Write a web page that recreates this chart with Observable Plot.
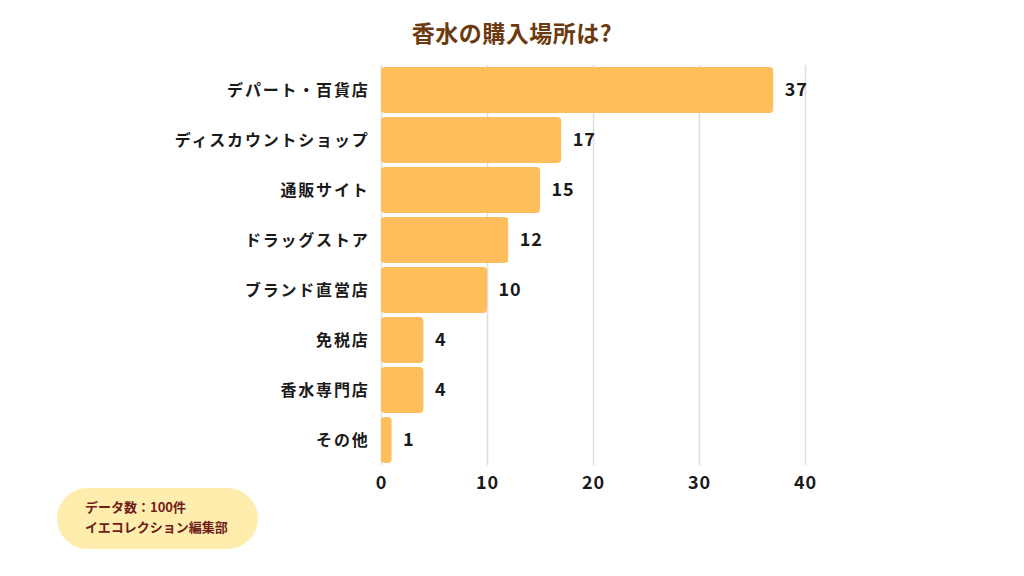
<!DOCTYPE html>
<html>
<head>
<meta charset="utf-8">
<script src="https://cdn.jsdelivr.net/npm/d3@7"></script>
<script src="https://cdn.jsdelivr.net/npm/@observablehq/plot@0.6"></script>
<style>
  html, body { margin: 0; padding: 0; background: #fff; }
  body { width: 1024px; height: 576px; position: relative; overflow: hidden; font-family: "Noto Sans CJK JP", "Noto Sans", sans-serif; }
  #title { position: absolute; top: 12px; left: 0; width: 1024px; text-align: center; font-size: 23px; font-weight: 700; color: #6B3A10; line-height: 40px; letter-spacing: 0.5px; }
  #chart { position: absolute; top: 55px; left: 0; }
  #caption { position: absolute; left: 57px; top: 488px; width: 201px; height: 61px; border-radius: 31px; background: #FFEDAE; color: #6E1C1C; font-size: 13px; font-weight: 700; box-sizing: border-box; padding: 9px 0 0 28px; line-height: 20px; }
  g[aria-label="y-axis tick label"] text { letter-spacing: 1.8px; }
  g[aria-label="x-axis tick label"] text { letter-spacing: 1px; }
  g[aria-label="text"] text { letter-spacing: 1px; }
</style>
</head>
<body>
<div id="title">香水の購入場所は?</div>
<div id="chart"></div>
<div id="caption">データ数：100件<br>イエコレクション編集部</div>
<script>
const categories = ["デパート・百貨店", "ディスカウントショップ", "通販サイト", "ドラッグストア", "ブランド直営店", "免税店", "香水専門店", "その他"];
const values = [37, 17, 15, 12, 10, 4, 4, 1];
const xTicks = [0, 10, 20, 30, 40];

const data = categories.map((c, i) => ({category: c, value: values[i]}));

const chart = Plot.plot({
  width: 1024,
  height: 452,
  marginTop: 8,
  marginBottom: 40,
  marginLeft: 381,
  marginRight: 219,
  style: {fontFamily: "'Noto Sans CJK JP', 'Noto Sans', sans-serif", background: "transparent"},
  x: {domain: [0, 40], ticks: xTicks, label: null},
  y: {domain: categories, label: null, padding: 0.08},
  marks: [
    Plot.gridX(xTicks, {stroke: "#dedede", strokeOpacity: 1, strokeWidth: 1.5, inset: 2}),
    Plot.barX(data, {x: "value", y: "category", fill: "#FEBE5C", rx: 4}),
    Plot.text(data, {x: "value", y: "category", text: d => String(d.value), textAnchor: "start", dx: 11, fontSize: 18, fontWeight: 700, fill: "#1a1a1a"}),
    Plot.axisX(xTicks, {tickSize: 0, tickPadding: 9, fontSize: 18, fontWeight: 700, fill: "#1a1a1a", label: null}),
    Plot.axisY({tickSize: 0, tickPadding: 12, fontSize: 16, fontWeight: 700, fill: "#1a1a1a", label: null})
  ]
});
document.getElementById("chart").appendChild(chart);
</script>
</body>
</html>
